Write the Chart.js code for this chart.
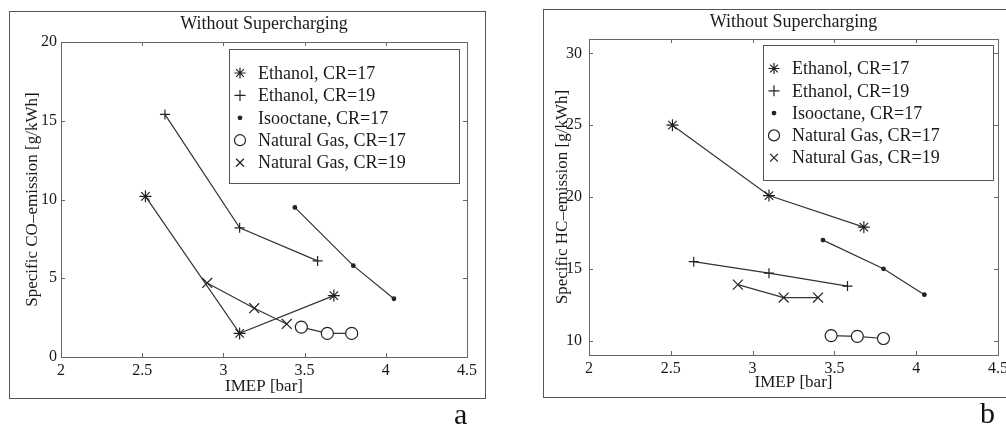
<!DOCTYPE html>
<html>
<head>
<meta charset="utf-8">
<script src="https://cdn.jsdelivr.net/npm/chart.js"></script>
<style>
  html, body { margin: 0; padding: 0; background: #fff; overflow: hidden; }
  body { width: 1006px; height: 430px; position: relative; }
  .frame { position: absolute; border: 1.5px solid #555; box-sizing: border-box; }
  .panel { position: absolute; top: 0; }
  .tag { position: absolute; font: 30px "Liberation Serif", serif; color: #111; }
</style>
</head>
<body>
<div class="frame" style="left:9px;top:11px;width:477px;height:388px"></div>
<div class="frame" style="left:543px;top:9px;width:480px;height:389px"></div>
<div class="panel" style="left:0"><canvas id="chartCO" width="500" height="430"></canvas></div>
<div class="panel" style="left:530px"><canvas id="chartHC" width="520" height="430"></canvas></div>
<div class="tag" style="left:454px;top:397px">a</div>
<div class="tag" style="left:980px;top:396px">b</div>
<script>
// series names
const fuels = ['Ethanol, CR=17', 'Ethanol, CR=19', 'Isooctane, CR=17', 'Natural Gas, CR=17', 'Natural Gas, CR=19'];

// tick labels
const imepTicks = [2, 2.5, 3, 3.5, 4, 4.5];
const coTicks = [0, 5, 10, 15, 20];
const hcTicks = [10, 15, 20, 25, 30];

// specific CO emission [g/kWh] vs IMEP [bar]
const coImepEth17 = [2.52, 3.10, 3.68];
const coEth17 = [10.2, 1.5, 3.9];
const coImepEth19 = [2.64, 3.10, 3.58];
const coEth19 = [15.4, 8.2, 6.1];
const coImepIso17 = [3.44, 3.80, 4.05];
const coIso17 = [9.5, 5.8, 3.7];
const coImepNg17 = [3.48, 3.64, 3.79];
const coNg17 = [1.9, 1.5, 1.5];
const coImepNg19 = [2.90, 3.19, 3.39];
const coNg19 = [4.7, 3.1, 2.1];

// specific HC emission [g/kWh] vs IMEP [bar]
const hcImepEth17 = [2.51, 3.10, 3.68];
const hcEth17 = [25.0, 20.1, 17.9];
const hcImepEth19 = [2.64, 3.10, 3.58];
const hcEth19 = [15.5, 14.7, 13.8];
const hcImepIso17 = [3.43, 3.80, 4.05];
const hcIso17 = [17.0, 15.0, 13.2];
const hcImepNg17 = [3.48, 3.64, 3.80];
const hcNg17 = [10.35, 10.3, 10.15];
const hcImepNg19 = [2.91, 3.19, 3.40];
const hcNg19 = [13.9, 13.0, 13.0];

// marker per fuel (matlab style: *, +, ., o, x)
const markerStyle = [
    { pointStyle: 'star', radius: 6, fill: '#222' },
    { pointStyle: 'cross', radius: 5, fill: '#222' },
    { pointStyle: 'circle', radius: 1.8, fill: '#222' },
    { pointStyle: 'circle', radius: 6, fill: '#fff' },
    { pointStyle: 'crossRot', radius: 7, fill: '#222' }
];

function pairs(xs, ys) {
    return xs.map(function(x, i) { return { x: x, y: ys[i] }; });
}

function makeDatasets(series) {
    return series.map(function(s, i) {
        var m = markerStyle[i];
        return {
            label: fuels[i],
            data: pairs(s[0], s[1]),
            showLine: true,
            borderColor: '#333',
            borderWidth: 1.2,
            pointStyle: m.pointStyle,
            pointRadius: m.radius,
            pointBorderColor: '#222',
            pointBackgroundColor: m.fill,
            pointBorderWidth: 1.2
        };
    });
}

function line(ctx, x1, y1, x2, y2) {
    ctx.beginPath();
    ctx.moveTo(x1, y1);
    ctx.lineTo(x2, y2);
    ctx.stroke();
}

// plot box, inward ticks on all sides, title and boxed legend
const boxPlugin = {
    id: 'boxPlugin',
    afterDraw: function(chart, args, opts) {
        var ctx = chart.ctx;
        var a = chart.chartArea;
        var x = chart.scales.x, y = chart.scales.y;
        ctx.save();
        ctx.strokeStyle = '#666';
        ctx.lineWidth = 1;
        ctx.strokeRect(Math.round(a.left) + 0.5, Math.round(a.top) + 0.5, Math.round(a.width), Math.round(a.height));
        x.ticks.forEach(function(t) {
            var px = Math.round(x.getPixelForValue(t.value)) + 0.5;
            line(ctx, px, a.bottom, px, a.bottom - 4);
            line(ctx, px, a.top, px, a.top + 4);
        });
        y.ticks.forEach(function(t) {
            var py = Math.round(y.getPixelForValue(t.value)) + 0.5;
            line(ctx, a.left, py, a.left + 4, py);
            line(ctx, a.right, py, a.right - 4, py);
        });

        ctx.fillStyle = '#1a1a1a';
        ctx.font = '18px "Liberation Serif"';
        ctx.textAlign = 'center';
        ctx.textBaseline = 'middle';
        ctx.fillText(opts.title, (a.left + a.right) / 2, opts.titleY);

        var lg = opts.legend;
        ctx.strokeStyle = '#555';
        ctx.strokeRect(lg.left + 0.5, lg.top + 0.5, lg.width, lg.height);
        ctx.textAlign = 'left';
        chart.data.datasets.forEach(function(ds, i) {
            var ry = lg.firstRow + i * lg.step;
            ctx.fillStyle = ds.pointBackgroundColor;
            ctx.strokeStyle = '#222';
            ctx.lineWidth = 1.2;
            Chart.helpers.drawPoint(ctx, {
                pointStyle: ds.pointStyle,
                radius: ds.pointStyle === 'circle' && ds.pointRadius < 3 ? 1.8 : 5.5,
                rotation: 0,
                borderWidth: 1.2
            }, lg.markerX, ry);
            ctx.fillStyle = '#1a1a1a';
            ctx.fillText(ds.label, lg.textX, ry + 1);
        });
        ctx.restore();
    }
};

function makeChart(id, series, cfg) {
    return new Chart(document.getElementById(id), {
        type: 'scatter',
        data: { datasets: makeDatasets(series) },
        plugins: [boxPlugin],
        options: {
            responsive: false,
            animation: false,
            layout: { padding: cfg.padding },
            plugins: {
                legend: { display: false },
                tooltip: { enabled: false },
                boxPlugin: { title: 'Without Supercharging', titleY: cfg.titleY, legend: cfg.legend }
            },
            scales: {
                x: {
                    type: 'linear',
                    min: 2,
                    max: 4.5,
                    afterBuildTicks: function(scale) {
                        scale.ticks = imepTicks.map(function(v) { return { value: v }; });
                    },
                    afterFit: function(scale) { scale.height = cfg.xHeight; },
                    grid: { display: false, drawTicks: false, tickLength: 0 },
                    border: { display: false },
                    ticks: {
                        padding: 4,
                        color: '#1a1a1a',
                        font: { family: 'Liberation Serif', size: 16 },
                        callback: function(v) { return String(v); }
                    },
                    title: {
                        display: true,
                        text: 'IMEP [bar]',
                        color: '#1a1a1a',
                        padding: 0,
                        font: { family: 'Liberation Serif', size: 17 }
                    }
                },
                y: {
                    type: 'linear',
                    min: cfg.yMin,
                    max: cfg.yMax,
                    afterBuildTicks: function(scale) {
                        scale.ticks = cfg.yTicks.map(function(v) { return { value: v }; });
                    },
                    afterFit: function(scale) { scale.width = cfg.yWidth; },
                    grid: { display: false, drawTicks: false, tickLength: 0 },
                    border: { display: false },
                    ticks: {
                        padding: cfg.yPad,
                        color: '#1a1a1a',
                        font: { family: 'Liberation Serif', size: 16 },
                        callback: function(v) { return String(v); }
                    },
                    title: {
                        display: true,
                        text: cfg.yTitle,
                        color: '#1a1a1a',
                        padding: 0,
                        font: { family: 'Liberation Serif', size: 17 }
                    }
                }
            }
        }
    });
}

makeChart('chartCO', [
    [coImepEth17, coEth17],
    [coImepEth19, coEth19],
    [coImepIso17, coIso17],
    [coImepNg17, coNg17],
    [coImepNg19, coNg19]
], {
    padding: { left: 22, top: 42, right: 33, bottom: 33 },
    xHeight: 40,
    yWidth: 39,
    yPad: 4,
    yMin: 0,
    yMax: 20,
    yTicks: coTicks,
    yTitle: 'Specific CO\u2013emission [g/kWh]',
    titleY: 24,
    legend: { left: 229, top: 49, width: 230, height: 134, firstRow: 73, step: 22.4, markerX: 240, textX: 258 }
});

makeChart('chartHC', [
    [hcImepEth17, hcEth17],
    [hcImepEth19, hcEth19],
    [hcImepIso17, hcIso17],
    [hcImepNg17, hcNg17],
    [hcImepNg19, hcNg19]
], {
    padding: { left: 22, top: 39, right: 52, bottom: 37 },
    xHeight: 38,
    yWidth: 37,
    yPad: 7,
    yMin: 9,
    yMax: 31,
    yTicks: hcTicks,
    yTitle: 'Specific HC\u2013emission [g/kWh]',
    titleY: 22,
    legend: { left: 233, top: 45, width: 230, height: 135, firstRow: 68.5, step: 22.3, markerX: 244, textX: 262 }
});
</script>
</body>
</html>
